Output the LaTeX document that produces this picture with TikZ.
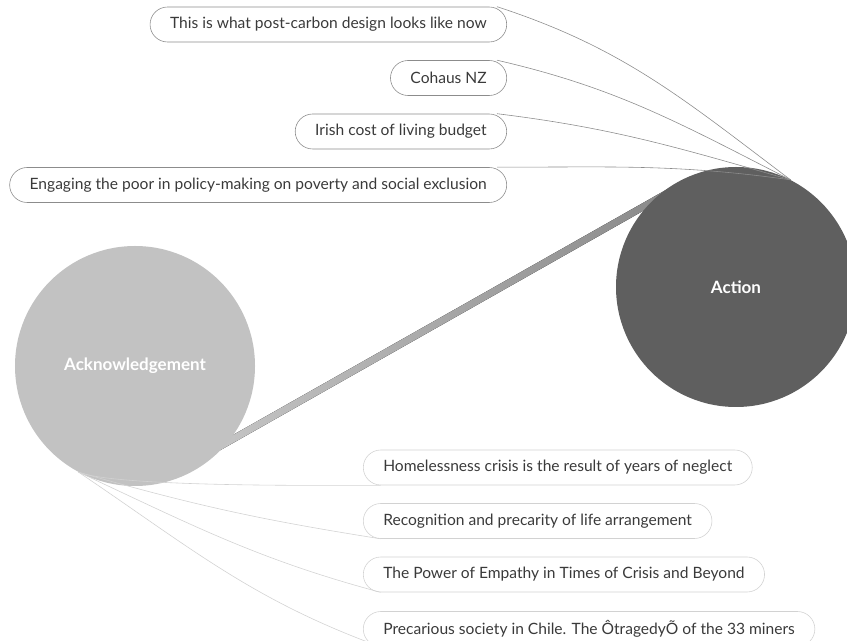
\documentclass[tikz,border=0pt]{standalone}
\usepackage{fontspec}
\setmainfont{Lato}
\usetikzlibrary{calc}

\definecolor{actfill}{HTML}{5F5F5F}
\definecolor{ackfill}{HTML}{C2C2C2}
\definecolor{bandlight}{HTML}{C6C6C6}
\definecolor{banddark}{HTML}{888888}
\definecolor{topline}{HTML}{8C8C8C}
\definecolor{lowline}{HTML}{D2D2D2}
\definecolor{pilltext}{HTML}{3A3A3A}

\tikzset{
  pill/.style={rectangle, rounded corners=5.25mm, minimum height=10.5mm,
    inner xsep=6mm, line width=0.5pt, text=pilltext,
    font=\fontsize{13.3}{15}\selectfont},
  toppill/.style={pill, draw=topline, anchor=east},
  lowpill/.style={pill, draw=lowline, anchor=west},
  bigcirc/.style={circle, minimum size=72mm, inner sep=0pt, text=white,
    font=\fontsize{14.5}{16}\selectfont\bfseries},
  topflow/.style={draw=topline, line width=0.5pt},
  lowflow/.style={draw=lowline, line width=0.5pt}
}

\begin{document}
\begin{tikzpicture}[x=0.3mm, y=0.3mm]
\useasboundingbox (0,0) rectangle (847,640);
\clip (0,0) rectangle (847,640);

\coordinate (AC) at (135,274);
\coordinate (TC) at (736,353);
\coordinate (bandA) at ([shift={(75,-86)}]AC);
\coordinate (bandB) at ([shift={(-56,101)}]TC);

% flow band under the circles
\fill[left color=bandlight, right color=banddark]
  ($(bandA)!1.05mm!90:(bandB)$) -- ($(bandB)!1.05mm!-90:(bandA)$)
  -- ($(bandB)!1.05mm!90:(bandA)$) -- ($(bandA)!1.05mm!-90:(bandB)$) -- cycle;

\node[bigcirc, fill=ackfill] (ack) at (AC) {Acknowledgement};
\node[bigcirc, fill=actfill] (action) at (TC) {Action};

\node[toppill] (p1) at (507,615.5) {This is what post-carbon design looks like now};
\node[toppill] (p2) at (507,562) {Cohaus NZ};
\node[toppill] (p3) at (507,508.5) {Irish cost of living budget};
\node[toppill] (p4) at (507,455) {Engaging the poor in policy-making on poverty and social exclusion};

\node[lowpill] (q1) at (363,172.5) {Homelessness crisis is the result of years of neglect};
\node[lowpill] (q2) at (363,119) {Recognition and precarity of life arrangement};
\node[lowpill] (q3) at (363,65.5) {The Power of Empathy in Times of Crisis and Beyond};
\node[lowpill] (q4) at (363,11) {Precarious society in Chile. The ÔtragedyÕ of the 33 miners};

\draw[topflow] ([xshift=-3mm]p1.north east) to[out=-18,in=143] (action.63);
\draw[topflow] ([xshift=-3mm]p2.north east) to[out=-13,in=153] (action.63);
\draw[topflow] ([xshift=-3mm]p3.north east) to[out=-7,in=164] (action.63);
\draw[topflow] ([xshift=-3mm]p4.north east) to[out=0,in=172] (action.63);

\draw[lowflow] (ack.242) to[out=-22,in=180,looseness=0.35] ([xshift=5.25mm]q1.south west);
\draw[lowflow] (ack.242) to[out=-16,in=171] ([xshift=5.25mm]q2.south west);
\draw[lowflow] (ack.242) to[out=-25,in=165] ([xshift=5.25mm]q3.south west);
\draw[lowflow] (ack.242) to[out=-34,in=160] ([xshift=5.25mm]q4.south west);
\end{tikzpicture}
\end{document}
